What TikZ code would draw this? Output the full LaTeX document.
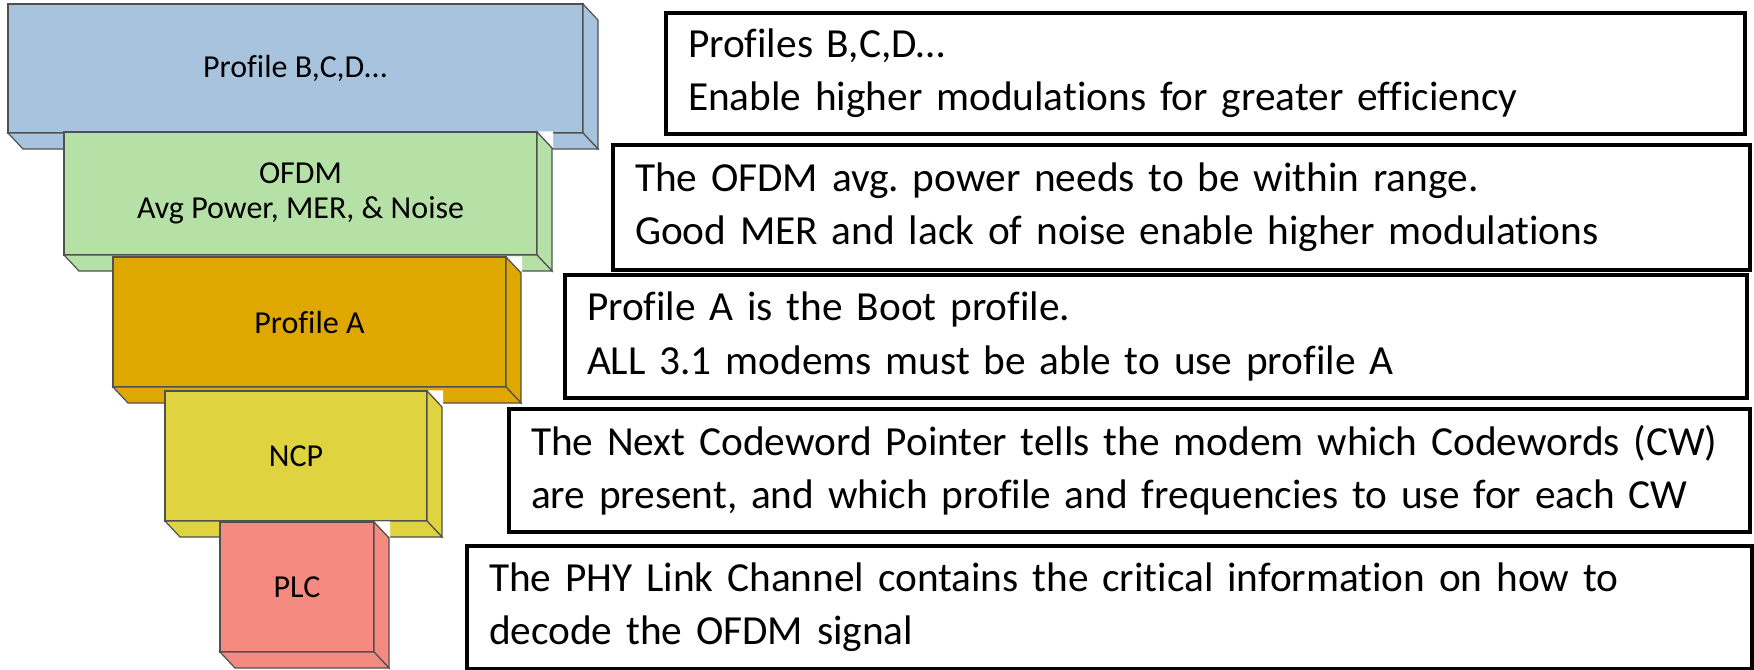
\documentclass[tikz,border=0pt]{standalone}
\usepackage{fontspec}
\setmainfont{Carlito}[Ligatures=NoCommon]
\frenchspacing
\definecolor{cB}{RGB}{167,195,222}
\definecolor{cG}{RGB}{182,225,166}
\definecolor{cO}{RGB}{223,168,0}
\definecolor{cY}{RGB}{223,211,63}
\definecolor{cP}{RGB}{244,138,128}
\definecolor{edge}{RGB}{80,80,80}
\tikzset{
  face/.style={draw=edge, line width=0.9pt, line join=miter, rectangle, inner sep=0pt, outer sep=0pt,
    font=\fontsize{24}{26}\selectfont, align=center},
  side/.style={draw=edge, line width=0.9pt, line join=miter},
  notch/.style={fill=white},
  tbox/.style={draw=black, line width=3.2pt, rectangle, inner ysep=0pt, inner xsep=16.5pt, outer sep=0pt,
    align=left, font=\fontsize{31}{40}\selectfont}
}
\begin{document}
\begin{tikzpicture}[x=0.75pt,y=-0.75pt]
\useasboundingbox (0,0) rectangle (1754,669);
% Profile B,C,D
\node[face, fill=cB, minimum width=431.25pt, minimum height=96.75pt] (blue) at (295.5,68.5) {Profile B,C,D...};
\draw[side, fill=cB] (blue.north east) -- ++(15,16) -- ([shift={(15,16)}]blue.south east) -- (blue.south east) -- cycle;
\draw[side, fill=cB] (blue.south west) -- ([shift={(15,16)}]blue.south west) -- ([shift={(15,16)}]blue.south east) -- (blue.south east) -- cycle;
% OFDM
\node[face, fill=cG, minimum width=354.75pt, minimum height=92.25pt] (green) at (300.5,193.5) {OFDM\\Avg Power, MER, \& Noise};
\fill[notch] ([shift={(0.6,-0.6)}]green.north east) -- ++(15.5,0) -- ++(0,16.5) -- cycle;
\draw[side, fill=cG] (green.north east) -- ++(15,16) -- ([shift={(15,16)}]green.south east) -- (green.south east) -- cycle;
\draw[side, fill=cG] (green.south west) -- ([shift={(15,16)}]green.south west) -- ([shift={(15,16)}]green.south east) -- (green.south east) -- cycle;
% Profile A
\node[face, fill=cO, minimum width=294.75pt, minimum height=97.5pt] (orange) at (309.5,322) {Profile A};
\fill[notch] ([shift={(0.6,-0.6)}]orange.north east) -- ++(15.5,0) -- ++(0,16.5) -- cycle;
\draw[side, fill=cO] (orange.north east) -- ++(15,16) -- ([shift={(15,16)}]orange.south east) -- (orange.south east) -- cycle;
\draw[side, fill=cO] (orange.south west) -- ([shift={(15,16)}]orange.south west) -- ([shift={(15,16)}]orange.south east) -- (orange.south east) -- cycle;
% NCP
\node[face, fill=cY, minimum width=196.5pt, minimum height=97.5pt] (yellow) at (296,456) {NCP};
\fill[notch] ([shift={(0.6,-0.6)}]yellow.north east) -- ++(15.5,0) -- ++(0,16.5) -- cycle;
\draw[side, fill=cY] (yellow.north east) -- ++(15,16) -- ([shift={(15,16)}]yellow.south east) -- (yellow.south east) -- cycle;
\draw[side, fill=cY] (yellow.south west) -- ([shift={(15,16)}]yellow.south west) -- ([shift={(15,16)}]yellow.south east) -- (yellow.south east) -- cycle;
% PLC
\node[face, fill=cP, minimum width=115.5pt, minimum height=97.5pt] (pink) at (297,587) {PLC};
\fill[notch] ([shift={(0.6,-0.6)}]pink.north east) -- ++(15.5,0) -- ++(0,16.5) -- cycle;
\draw[side, fill=cP] (pink.north east) -- ++(15,16) -- ([shift={(15,16)}]pink.south east) -- (pink.south east) -- cycle;
\draw[side, fill=cP] (pink.south west) -- ([shift={(15,16)}]pink.south west) -- ([shift={(15,16)}]pink.south east) -- (pink.south east) -- cycle;
% text boxes
\node[tbox, minimum width=809.25pt, minimum height=90.75pt, text width=776.25pt] (t1) at (1205.5,73.5)
  {Profiles B,C,D…\\Enable higher modulations for greater efficiency};
\node[tbox, minimum width=852.75pt, minimum height=93.75pt, text width=819.75pt] (t2) at (1181.5,207.5)
  {The OFDM avg. power needs to be within range.\\Good MER and lack of noise enable higher modulations};
\node[tbox, minimum width=886.5pt, minimum height=92.25pt, text width=853.5pt] (t3) at (1156,336.5)
  {Profile A is the Boot profile.\\ALL 3.1 modems must be able to use profile A};
\node[tbox, minimum width=930.75pt, minimum height=92.25pt, text width=897.75pt] (t4) at (1129.5,470.5)
  {The Next Codeword Pointer tells the modem which Codewords (CW)\\are present, and which profile and frequencies to use for each CW};
\node[tbox, minimum width=963.75pt, minimum height=92.25pt, text width=930.75pt] (t5) at (1109.5,607.5)
  {The PHY Link Channel contains the critical information on how to\\decode the OFDM signal};
\end{tikzpicture}
\end{document}
